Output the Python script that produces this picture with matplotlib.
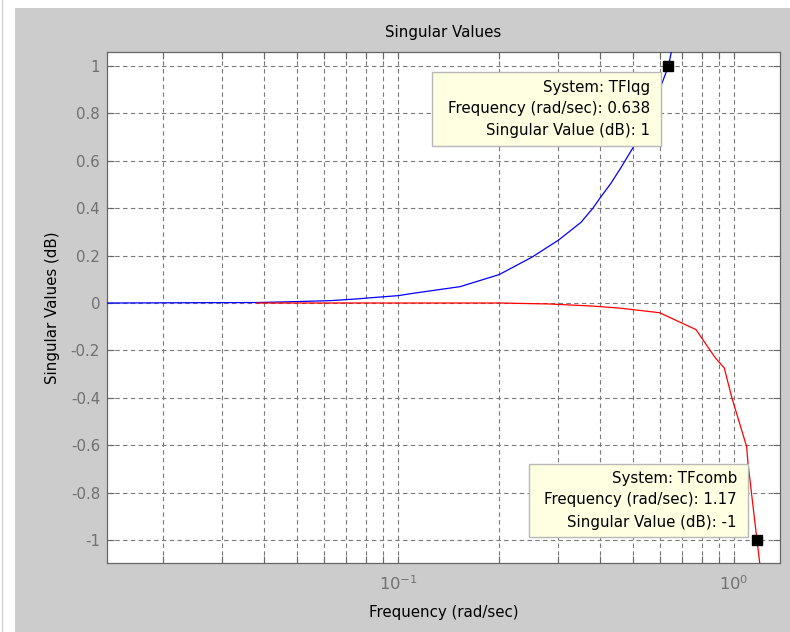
import math
import matplotlib
matplotlib.use("Agg")
import matplotlib.pyplot as plt
from matplotlib.patches import Rectangle
from matplotlib.lines import Line2D
from matplotlib.ticker import FixedLocator, LogLocator, NullFormatter, FuncFormatter

plt.rcParams['font.family'] = ['DejaVu Sans']
plt.rcParams['mathtext.fontset'] = 'dejavusans'

# ---- data ----
lqg_w = [0.0136, 0.038, 0.05, 0.063, 0.075, 0.088, 0.1, 0.111, 0.153, 0.2, 0.25,
         0.3, 0.35, 0.38, 0.4, 0.43, 0.46, 0.5, 0.55, 0.6, 0.638, 0.67]
lqg_db = [0.0, 0.002, 0.006, 0.01, 0.017, 0.025, 0.031, 0.041, 0.069, 0.12, 0.193,
          0.265, 0.34, 0.4, 0.445, 0.505, 0.57, 0.655, 0.77, 0.9, 1.0, 1.15]

comb_w = [0.038, 0.2, 0.28, 0.38, 0.46, 0.6, 0.77, 0.88, 0.935, 0.985, 1.09, 1.1, 1.17, 1.2]
comb_db = [0.0, 0.0, -0.004, -0.013, -0.022, -0.041, -0.112, -0.232, -0.274, -0.4,
           -0.606, -0.675, -1.0, -1.13]

tip_lqg = (0.638, 1.0)
tip_comb = (1.17, -1.0)
tip_lqg_text = ["System: TFlqg", "Frequency (rad/sec): 0.638", "Singular Value (dB): 1"]
tip_comb_text = ["System: TFcomb", "Frequency (rad/sec): 1.17", "Singular Value (dB): -1"]

y_ticks = [-1, -0.8, -0.6, -0.4, -0.2, 0, 0.2, 0.4, 0.6, 0.8, 1]

W, H = 790, 632
FS = 10.8
fig = plt.figure(figsize=(W / 100, H / 100), dpi=100, facecolor='white')
fig.patches.append(Rectangle((15 / W, 0), 1, (H - 8) / H, transform=fig.transFigure,
                             facecolor='#cccccc', edgecolor='none', zorder=-10))
fig.lines.append(Line2D([1.5 / W, 1.5 / W], [0, 1], transform=fig.transFigure,
                        color='#d4d4d4', lw=1))

ax = fig.add_axes([107 / W, (H - 563) / H, (780 - 107) / W, (563 - 52) / H])
ax.set_facecolor('white')

ax.semilogx(lqg_w, lqg_db, color='#0000ff', lw=0.9, zorder=3)
ax.semilogx(comb_w, comb_db, color='#ff0000', lw=0.9, zorder=3)

ax.set_xlim(0.0136, 1.37)
ax.set_ylim(-1.097, 1.059)

ax.yaxis.set_major_locator(FixedLocator(y_ticks))
ax.yaxis.set_major_formatter(FuncFormatter(lambda v, p: ('%g' % round(v, 2))))
ax.xaxis.set_major_locator(LogLocator(base=10))
ax.xaxis.set_major_formatter(FuncFormatter(
    lambda v, p: r'$\mathregular{10^{%d}}$' % round(math.log10(v))))
ax.xaxis.set_minor_locator(LogLocator(base=10, subs=range(2, 10)))
ax.xaxis.set_minor_formatter(NullFormatter())

grid_kw = dict(color='#7a7a7a', linestyle=(0, (4, 3)), linewidth=0.8)
ax.grid(True, which='major', axis='both', **grid_kw)
ax.grid(True, which='minor', axis='x', **grid_kw)
ax.set_axisbelow(True)

ax.tick_params(which='both', direction='in', top=True, right=True, colors='#666666',
               labelcolor='#707070', labelsize=FS, width=0.8)
ax.tick_params(which='major', length=5)
ax.tick_params(which='minor', length=5)
ax.tick_params(axis='x', which='major', pad=8, labelsize=FS + 1)
ax.tick_params(axis='y', which='major', pad=5)
for s in ax.spines.values():
    s.set_color('#666666')
    s.set_linewidth(0.9)

ax.set_title('Singular Values', fontsize=FS, color='black', pad=11)
ax.set_xlabel('Frequency (rad/sec)', fontsize=FS, color='black', labelpad=9)
ax.set_ylabel('Singular Values (dB)', fontsize=FS, color='black', labelpad=8)


def datatip(x0, x1, y0, y1, xr, ys, lines):
    ax.add_patch(Rectangle((x0, y0), x1 - x0, y1 - y0, transform=ax.transAxes,
                           facecolor='#ffffe1', edgecolor='#b8b8b8', lw=1, zorder=5))
    for yy, t in zip(ys, lines):
        ax.text(xr, yy, t, transform=ax.transAxes, ha='right', va='center',
                fontsize=FS, color='black', zorder=6)


datatip(0.483, 0.823, 0.816, 0.961, 0.807, [0.9315, 0.890, 0.847], tip_lqg_text)
datatip(0.627, 0.952, 0.0509, 0.1937, 0.936, [0.1644, 0.1233, 0.0802], tip_comb_text)

ax.plot([tip_lqg[0]], [tip_lqg[1]], 's', color='black', ms=7, zorder=7, clip_on=False)
ax.plot([tip_comb[0]], [tip_comb[1]], 's', color='black', ms=7, zorder=7, clip_on=False)

fig.savefig('out.png', dpi=100, facecolor=fig.get_facecolor())
